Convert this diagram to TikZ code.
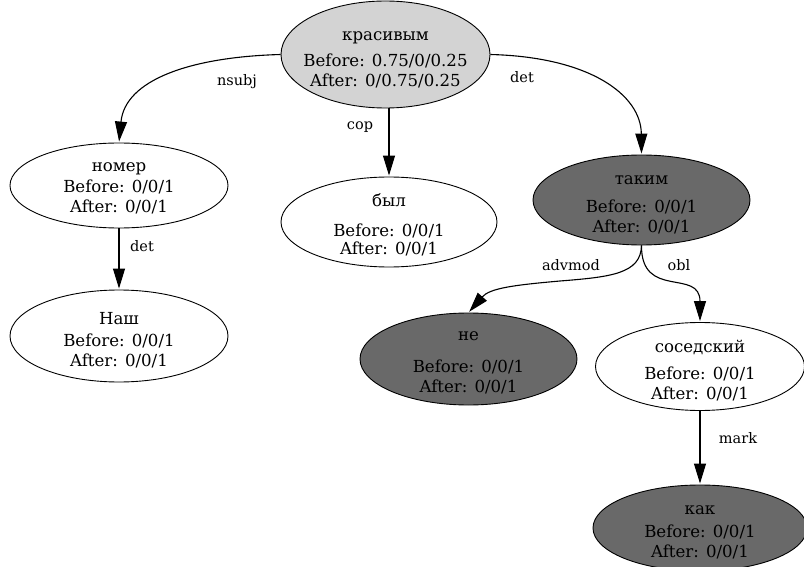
\documentclass[tikz,border=0pt]{standalone}
\usepackage{fontspec}
\setmainfont{DejaVu Serif}
\usetikzlibrary{shapes.geometric,arrows.meta}
\definecolor{lgray}{HTML}{D3D3D3}
\definecolor{dgray}{HTML}{696969}
\tikzset{
  tok/.style={ellipse, draw=black, line width=0.9pt, inner sep=0pt},
  ttext/.style={align=center, inner sep=0pt, font=\fontsize{16.6}{20}\selectfont},
  edge/.style={draw=black, line width=1.1pt, -{Triangle[length=20pt,width=12pt]}, shorten >=1pt},
  elab/.style={font=\fontsize{14.5}{17}\selectfont, inner sep=0pt},
}
\begin{document}
\begin{tikzpicture}[x=1pt,y=-1pt]
\useasboundingbox (0,0) rectangle (804,567);
% ellipses
\node[tok, fill=lgray, minimum width=209pt, minimum height=107pt] (root) at (385.5,54.5) {};
\node[tok, fill=white, minimum width=218pt, minimum height=85pt] (nomer) at (119,185.5) {};
\node[tok, fill=white, minimum width=218pt, minimum height=92pt] (nash) at (119,336) {};
\node[tok, fill=white, minimum width=216pt, minimum height=90pt] (byl) at (389,222) {};
\node[tok, fill=dgray, minimum width=217pt, minimum height=90pt] (takim) at (641.5,200) {};
\node[tok, fill=dgray, minimum width=217pt, minimum height=92pt] (ne) at (468.5,359) {};
\node[tok, fill=white, minimum width=209pt, minimum height=88pt] (sos) at (700,366.5) {};
\node[tok, fill=dgray, minimum width=214pt, minimum height=86pt] (kak) at (700,528) {};
% texts
\node[ttext] (root-t) at (385.5,59.5) {красивым\\[6pt]Before: 0.75/0/0.25\\After: 0/0.75/0.25};
\node[ttext] (nomer-t) at (119,188.5) {номер\\[1pt]Before: 0/0/1\\After: 0/0/1};
\node[ttext] (nash-t) at (119,340) {Наш\\[2pt]Before: 0/0/1\\After: 0/0/1};
\node[ttext] (byl-t) at (389,225) {был\\[10pt]Before: 0/0/1\\[-2pt]After: 0/0/1};
\node[ttext] (takim-t) at (641.5,205) {таким\\[8pt]Before: 0/0/1\\After: 0/0/1};
\node[ttext] (ne-t) at (468.5,363) {не\\[12pt]Before: 0/0/1\\After: 0/0/1};
\node[ttext] (sos-t) at (700,371) {соседский\\[7pt]Before: 0/0/1\\After: 0/0/1};
\node[ttext] (kak-t) at (700,532) {как\\[3pt]Before: 0/0/1\\After: 0/0/1};
% edges
\draw[edge] (root.west) .. controls (190,57) and (125,80) .. (nomer.north);
\draw[edge] (root.south -| byl.north) -- (byl.north);
\draw[edge] (root.east) .. controls (590,57) and (641,95) .. (takim.north);
\draw[edge] (nomer.south) -- (nash.north);
\draw[edge] (takim.south) .. controls (641,274) and (610,277) .. (560,281)
  .. controls (515,285) and (490,288) .. (ne.north);
\draw[edge] (takim.south) .. controls (641,300) and (700,268) .. (sos.north);
\draw[edge] (sos.south) -- (kak.north);
% edge labels
\node[elab] (l1) at (237,82) {nsubj};
\node[elab] (l2) at (360,127) {cop};
\node[elab] (l3) at (522,77) {det};
\node[elab] (l4) at (142,246) {det};
\node[elab] (l5) at (571,265) {advmod};
\node[elab] (l6) at (679,265) {obl};
\node[elab] (l7) at (738,438) {mark};
\end{tikzpicture}
\end{document}
